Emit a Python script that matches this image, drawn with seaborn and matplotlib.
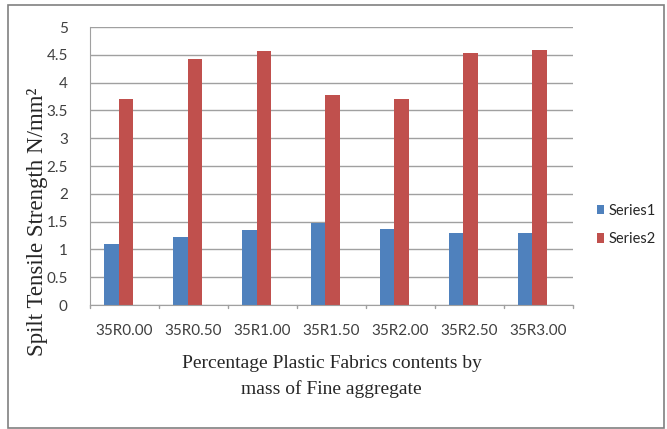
import pandas as pd
import numpy as np
import matplotlib
matplotlib.use('Agg')
import matplotlib.pyplot as plt
import seaborn as sns
from matplotlib.patches import Rectangle

# Data
mixes = ['35R0.00', '35R0.50', '35R1.00', '35R1.50', '35R2.00', '35R2.50', '35R3.00']
series1 = [1.10, 1.23, 1.35, 1.48, 1.36, 1.29, 1.29]
series2 = [3.70, 4.42, 4.56, 3.78, 3.70, 4.53, 4.58]
yticks = [0, 0.5, 1, 1.5, 2, 2.5, 3, 3.5, 4, 4.5, 5]
ytick_labels = ['0', '0.5', '1', '1.5', '2', '2.5', '3', '3.5', '4', '4.5', '5']

df = pd.DataFrame({
    'mix': mixes * 2,
    'value': series1 + series2,
    'series': ['Series1'] * len(mixes) + ['Series2'] * len(mixes),
})

sns.set_style('white')
fig = plt.figure(figsize=(6.67, 4.29), dpi=100)
ax = fig.add_axes([0.135, 0.289, 0.724, 0.648])

sns.barplot(data=df, x='mix', y='value', hue='series', palette=['#4F81BD', '#C0504D'],
            width=0.43, saturation=1, linewidth=0, ax=ax, legend=True)

# bars sit a little left of the category labels, like the Excel original
shift = 0.087
ax.set_ylim(0, 5)
ax.set_xlim(-0.5 + shift, len(mixes) - 0.5 + shift)
ax.set_yticks(yticks)
ax.set_yticklabels(ytick_labels, fontsize=11, color='#404040', family='Lato')
ax.set_xticks(np.arange(len(mixes)) + shift)
ax.set_xticklabels(mixes, fontsize=11, color='#404040', family='Lato')
ax.tick_params(axis='y', length=0, pad=16)
ax.tick_params(axis='x', length=0, pad=14)
ax.yaxis.grid(True, color='#a0a0a0', linewidth=1)
ax.set_axisbelow(True)
for s in ['top', 'right']:
    ax.spines[s].set_visible(False)
ax.spines['left'].set_color('#a0a0a0')
ax.spines['bottom'].set_color('#a0a0a0')

# small tick marks between categories
for b in np.arange(-0.5, len(mixes), 1.0) + shift:
    ax.plot([b, b], [0, -0.06], color='#a0a0a0', lw=1, clip_on=False)

ax.set_ylabel('Spilt Tensile Strength N/mm²', fontsize=16.5, family='Liberation Serif')
ax.yaxis.set_label_coords(-0.088, 0.3)
ax.set_xlabel('Percentage Plastic Fabrics contents by\nmass of Fine aggregate',
              fontsize=14, family='Liberation Serif', labelpad=12, linespacing=1.6)

ax.legend(loc='center left', bbox_to_anchor=(0.875, 0.476), bbox_transform=fig.transFigure,
          frameon=False, handlelength=0.5, handleheight=0.6, handletextpad=0.3,
          labelspacing=1.0, prop={'family': 'Lato', 'size': 10.5})

fig.patches.append(Rectangle((8 / 667, 1 / 429), 656 / 667, 423 / 429, transform=fig.transFigure,
                             fill=False, edgecolor='#808080', linewidth=1.2))

plt.savefig('out.png', dpi=100)
plt.close()
